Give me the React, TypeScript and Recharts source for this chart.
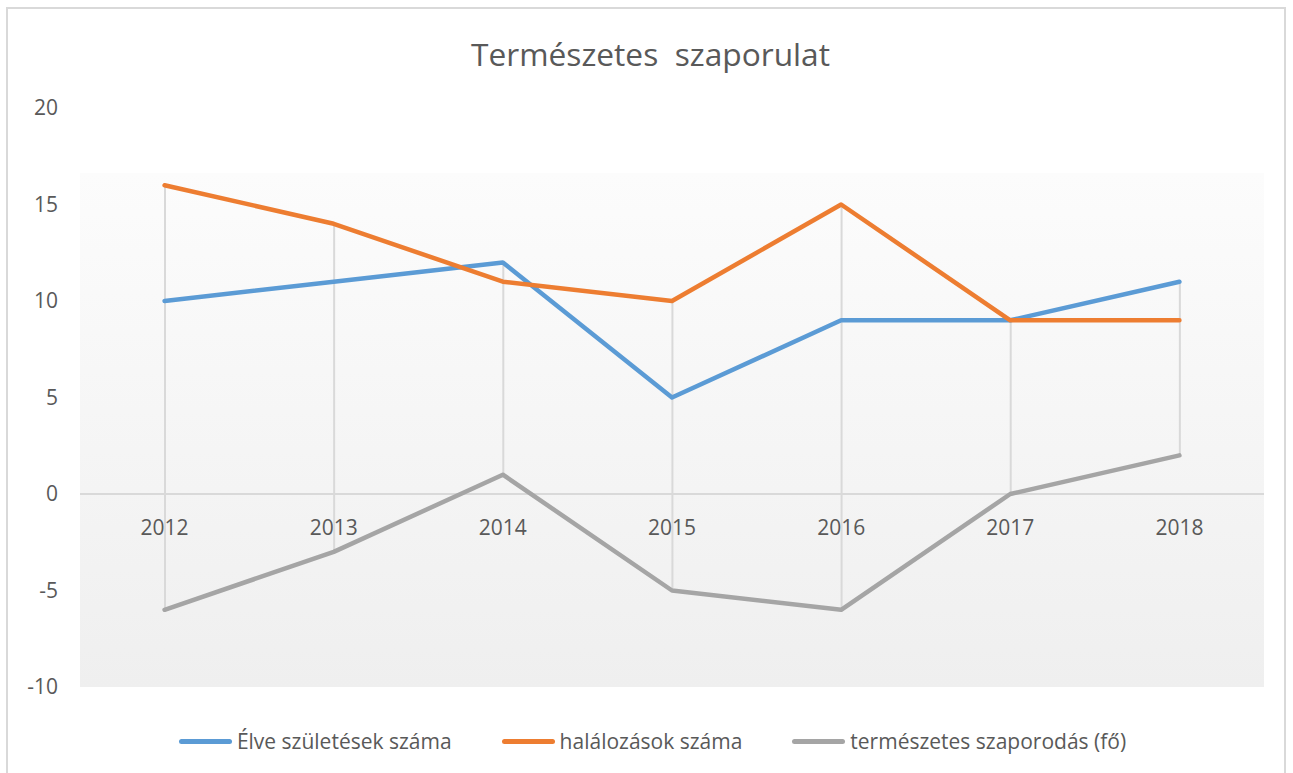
import React from 'react';
import {
  ComposedChart,
  Line,
  Bar,
  XAxis,
  YAxis,
  CartesianGrid,
  ReferenceLine,
  LabelList,
} from 'recharts';

const years = ['2012', '2013', '2014', '2015', '2016', '2017', '2018'];
const births = [10, 11, 12, 5, 9, 9, 11];
const deaths = [16, 14, 11, 10, 15, 9, 9];
const natural = [-6, -3, 1, -5, -6, 0, 2];
const yTicks = [-10, -5, 0, 5, 10, 15, 20];
const title = 'Természetes  szaporulat';

const series = [
  { key: 'births', name: 'Élve születések száma', color: '#5b9bd5' },
  { key: 'deaths', name: 'halálozások száma', color: '#ed7d31' },
  { key: 'natural', name: 'természetes szaporodás (fő)', color: '#a5a5a5' },
];

const data = years.map((year, i) => {
  const vals = [births[i], deaths[i], natural[i]];
  return {
    year,
    births: births[i],
    deaths: deaths[i],
    natural: natural[i],
    axis: 0,
    hl: [Math.min(...vals), Math.max(...vals)],
  };
});

const FONT = '"Open Sans", Calibri, sans-serif';
const TEXT = '#595959';

export default function App() {
  return (
    <div style={{ position: 'absolute', left: 0, top: 0, width: 1293, height: 773, background: '#fff', fontFamily: FONT }}>
      <div
        style={{
          position: 'absolute',
          left: 6,
          top: 7,
          width: 1280,
          height: 800,
          borderLeft: '2px solid #d9d9d9',
          borderTop: '2px solid #d9d9d9',
          borderRight: '2px solid #d9d9d9',
          boxSizing: 'border-box',
        }}
      />
      <div
        style={{
          position: 'absolute',
          left: 4,
          top: 38,
          width: 1293,
          textAlign: 'center',
          fontSize: 31.7,
          lineHeight: '31px',
          color: TEXT,
          whiteSpace: 'pre',
        }}
      >
        {title}
      </div>
      <div style={{ position: 'absolute', left: 0, top: 0 }}>
        <ComposedChart
          width={1293}
          height={773}
          data={data}
          margin={{ top: 108, right: 29, bottom: 86, left: 0 }}
          barCategoryGap={0}
        >
          <defs>
            <linearGradient id="plotBg" x1="0" y1="0" x2="0" y2="1">
              <stop offset="0" stopColor="#ffffff" />
              <stop offset="0.112" stopColor="#ffffff" />
              <stop offset="0.113" stopColor="#fcfcfc" />
              <stop offset="1" stopColor="#efefef" />
            </linearGradient>
          </defs>
          <CartesianGrid horizontal={false} vertical={false} fill="url(#plotBg)" stroke="none" />
          <XAxis dataKey="year" hide />
          <YAxis
            domain={[-10, 20]}
            ticks={yTicks}
            width={80}
            axisLine={false}
            tickLine={false}
            tickSize={0}
            tickMargin={22}
            tick={{ fill: TEXT, fontSize: 21, fontFamily: FONT }}
          />
          <Bar dataKey="hl" barSize={2} fill="#d9d9d9" isAnimationActive={false} legendType="none" />
          <ReferenceLine y={0} stroke="#d9d9d9" strokeWidth={2} />
          <Line
            dataKey="axis"
            stroke="transparent"
            strokeWidth={0}
            dot={false}
            activeDot={false}
            legendType="none"
            isAnimationActive={false}
          >
            <LabelList dataKey="year" position="bottom" offset={26} fill={TEXT} fontSize={21} fontFamily={FONT} />
          </Line>
          {series.map((s) => (
            <Line
              key={s.key}
              dataKey={s.key}
              name={s.name}
              stroke={s.color}
              strokeWidth={4.5}
              strokeLinecap="round"
              strokeLinejoin="round"
              dot={false}
              activeDot={false}
              isAnimationActive={false}
            />
          ))}
        </ComposedChart>
      </div>
      <div
        style={{
          position: 'absolute',
          left: 0,
          top: 729,
          width: 1293,
          display: 'flex',
          justifyContent: 'center',
          gap: 50,
          paddingLeft: 12,
          boxSizing: 'border-box',
        }}
      >
        {series.map((s) => (
          <div key={s.key} style={{ display: 'flex', alignItems: 'center', gap: 5 }}>
            <div style={{ width: 53, height: 5, borderRadius: 3, background: s.color }} />
            <span style={{ fontSize: 21, lineHeight: '24px', color: TEXT }}>{s.name}</span>
          </div>
        ))}
      </div>
    </div>
  );
}
